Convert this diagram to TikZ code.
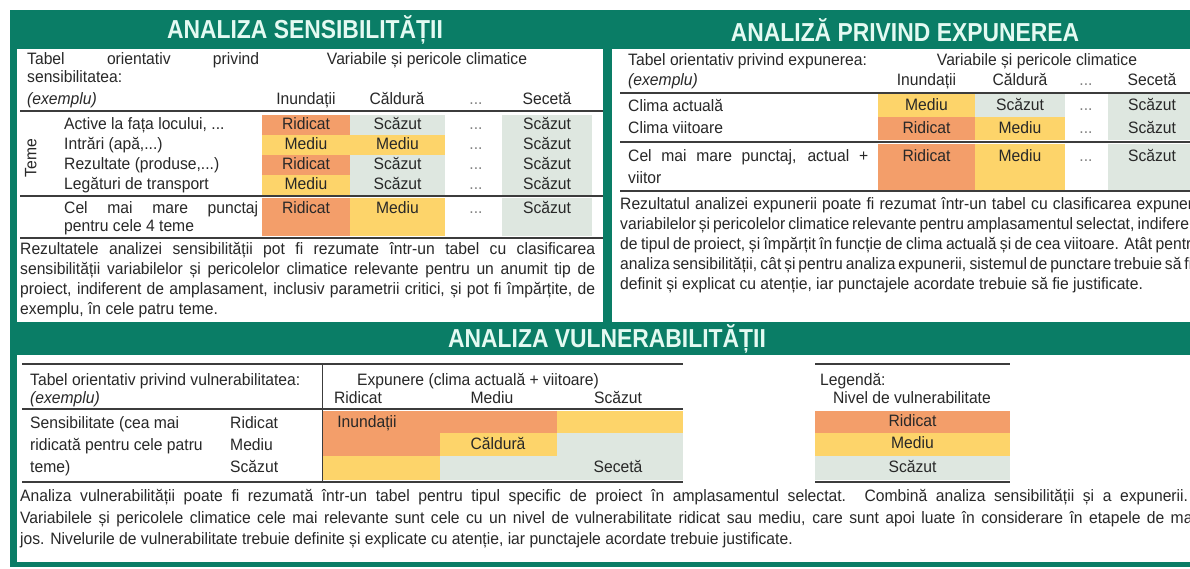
\documentclass[tikz,border=0pt]{standalone}
\usepackage{fontspec}
\setmainfont{Liberation Sans}[FakeStretch=0.95]
\newfontfamily\titlefont{Liberation Sans}[FakeStretch=0.88]
\definecolor{frame}{RGB}{10,125,102}
\definecolor{hi}{RGB}{243,158,106}
\definecolor{mid}{RGB}{253,212,106}
\definecolor{lo}{RGB}{222,231,224}
\definecolor{ink}{RGB}{40,40,40}
\definecolor{rulec}{RGB}{60,60,60}
\definecolor{titlecol}{RGB}{228,250,242}
\begin{document}
\begin{tikzpicture}[x=1pt,y=-1pt,
  tx/.style={inner sep=0pt, text height=12pt, text depth=3.5pt, font=\fontsize{16.5}{20}\selectfont, text=ink},
  lft/.style={tx, anchor=west},
  ctr/.style={tx, anchor=center},
  cell/.style={tx, anchor=center, minimum height=#1},
  cell/.default=20pt,
  dots/.style={tx, anchor=center, text=gray},
  titlebox/.style={inner sep=0pt, font=\titlefont\bfseries\fontsize{26}{28}\selectfont, text=titlecol},
  hrule/.style={draw=rulec, line width=2.4pt},
  vrule/.style={draw=rulec, line width=1pt}]
\useasboundingbox (0,0) rectangle (1190,569);
\clip (0,0) rectangle (1190,569);
\fill[white] (0,0) rectangle (1190,569);
% frame
\fill[frame] (10,10) rectangle (1200,567);
\fill[white] (17,49) rectangle (603,322);
\fill[white] (612,49) rectangle (1200,322);
\fill[white] (17,355) rectangle (1200,562);
% titles
\node[titlebox] (t1) at (305,30) {ANALIZA SENSIBILITĂȚII};
\node[titlebox] (t2) at (905,30) {ANALIZĂ PRIVIND EXPUNEREA};
\node[titlebox] (t3) at (607,339) {ANALIZA VULNERABILITĂȚII};

% ===== top left: sensitivity =====
\node[lft] (a1) at (27,60) {\makebox[232pt][s]{Tabel orientativ privind}};
\node[lft] (a2) at (27,78) {sensibilitatea:};
\node[lft] (a3) at (27,100) {\itshape (exemplu)};
\node[ctr] (a4) at (427,60) {Variabile și pericole climatice};
\node[ctr] (h1) at (306,100) {Inundații};
\node[ctr] (h2) at (397,100) {Căldură};
\node[dots] (h3) at (476,100) {...};
\node[ctr] (h4) at (547,100) {Secetă};
\draw[hrule] (20,111) -- (603,111);
\node[tx, rotate=90] (teme) at (32,158) {Teme};
% cells
\node[cell, fill=hi, minimum width=88pt] (s11) at (306,125) {Ridicat};
\node[cell, fill=lo, minimum width=95pt] (s12) at (397.5,125) {Scăzut};
\node[dots] (s13) at (476,125) {...};
\node[cell, fill=lo, minimum width=90pt] (s14) at (547,125) {Scăzut};
\node[cell, fill=mid, minimum width=88pt] (s21) at (306,145) {Mediu};
\node[cell, fill=mid, minimum width=95pt] (s22) at (397.5,145) {Mediu};
\node[dots] (s23) at (476,145) {...};
\node[cell, fill=lo, minimum width=90pt] (s24) at (547,145) {Scăzut};
\node[cell, fill=hi, minimum width=88pt] (s31) at (306,165) {Ridicat};
\node[cell, fill=lo, minimum width=95pt] (s32) at (397.5,165) {Scăzut};
\node[dots] (s33) at (476,165) {...};
\node[cell, fill=lo, minimum width=90pt] (s34) at (547,165) {Scăzut};
\node[cell, fill=mid, minimum width=88pt] (s41) at (306,185) {Mediu};
\node[cell, fill=lo, minimum width=95pt] (s42) at (397.5,185) {Scăzut};
\node[dots] (s43) at (476,185) {...};
\node[cell, fill=lo, minimum width=90pt] (s44) at (547,185) {Scăzut};
\node[lft] (r1) at (64,125) {Active la fața locului, ...};
\node[lft] (r2) at (64,145) {Intrări (apă,...)};
\node[lft] (r3) at (64,165) {Rezultate (produse,...)};
\node[lft] (r4) at (64,185) {Legături de transport};
\draw[hrule] (20,196) -- (603,196);
\fill[hi] (262,198) rectangle (350,236);
\fill[mid] (350,198) rectangle (445,236);
\fill[lo] (502,198) rectangle (592,236);
\node[ctr] (s51) at (306,209) {Ridicat};
\node[ctr] (s52) at (397.5,209) {Mediu};
\node[dots] (s53) at (476,209) {...};
\node[ctr] (s54) at (547,209) {Scăzut};
\node[lft] (r5) at (64,209) {\makebox[194pt][s]{Cel mai mare punctaj}};
\node[lft] (r6) at (64,227) {pentru cele 4 teme};
\draw[hrule] (20,238) -- (603,238);
\node[lft] (p1) at (20,250) {\makebox[575pt][s]{Rezultatele analizei sensibilității pot fi rezumate într-un tabel cu clasificarea}};
\node[lft] (p2) at (20,270) {\makebox[575pt][s]{sensibilității variabilelor și pericolelor climatice relevante pentru un anumit tip de}};
\node[lft] (p3) at (20,290) {\makebox[575pt][s]{proiect, indiferent de amplasament, inclusiv parametrii critici, și pot fi împărțite, de}};
\node[lft] (p4) at (20,310) {exemplu, în cele patru teme.};

% ===== top right: exposure =====
\node[lft] (b1) at (628,61) {Tabel orientativ privind expunerea:};
\node[ctr] (b2) at (1037,61) {Variabile și pericole climatice};
\node[lft] (b3) at (628,81) {\itshape (exemplu)};
\node[ctr] (g1) at (926.5,81) {Inundații};
\node[ctr] (g2) at (1020,81) {Căldură};
\node[dots] (g3) at (1086,81) {...};
\node[ctr] (g4) at (1152,81) {Secetă};
\draw[hrule] (620,93) -- (1200,93);
\node[cell=23pt, fill=mid, minimum width=97pt] (e11) at (926.5,106) {Mediu};
\node[cell=23pt, fill=lo, minimum width=90pt] (e12) at (1020,106) {Scăzut};
\node[dots] (e13) at (1086,106) {...};
\node[cell=23pt, fill=lo, minimum width=88pt] (e14) at (1152,106) {Scăzut};
\node[cell=23pt, fill=hi, minimum width=97pt] (e21) at (926.5,129) {Ridicat};
\node[cell=23pt, fill=mid, minimum width=90pt] (e22) at (1020,129) {Mediu};
\node[dots] (e23) at (1086,129) {...};
\node[cell=23pt, fill=lo, minimum width=88pt] (e24) at (1152,129) {Scăzut};
\node[lft] (q1) at (628,107) {Clima actuală};
\node[lft] (q2) at (628,129) {Clima viitoare};
\draw[hrule] (620,142) -- (1200,142);
\fill[hi] (878,144) rectangle (975,190);
\fill[mid] (975,144) rectangle (1065,190);
\fill[lo] (1108,144) rectangle (1196,190);
\node[ctr] (e31) at (926.5,157) {Ridicat};
\node[ctr] (e32) at (1020,157) {Mediu};
\node[dots] (e33) at (1086,157) {...};
\node[ctr] (e34) at (1152,157) {Scăzut};
\node[lft] (q3) at (628,157) {\makebox[240pt][s]{Cel mai mare punctaj, actual +}};
\node[lft] (q4) at (628,179) {viitor};
\draw[hrule] (620,191) -- (1200,191);
\node[lft] (m1) at (620,205) {\makebox[580pt][s]{Rezultatul analizei expunerii poate fi rezumat într-un tabel cu clasificarea expunerii}};
\node[lft] (m2) at (620,225) {\makebox[580pt][s]{variabilelor și pericolelor climatice relevante pentru amplasamentul selectat, indiferent}};
\node[lft] (m3) at (620,245) {\makebox[580pt][s]{de tipul de proiect, și împărțit în funcție de clima actuală și de cea viitoare. Atât pentru}};
\node[lft] (m4) at (620,265) {\makebox[580pt][s]{analiza sensibilității, cât și pentru analiza expunerii, sistemul de punctare trebuie să fie}};
\node[lft] (m5) at (620,285) {definit și explicat cu atenție, iar punctajele acordate trebuie să fie justificate.};

% ===== bottom: vulnerability =====
\draw[hrule] (22,364) -- (683,364);
\draw[hrule] (815,364) -- (1010,364);
\node[lft] (c1) at (30,381) {Tabel orientativ privind vulnerabilitatea:};
\node[lft] (c2) at (30,399) {\itshape (exemplu)};
\node[ctr] (c3) at (478,381) {Expunere (clima actuală + viitoare)};
\node[ctr] (x1) at (358,399) {Ridicat};
\node[ctr] (x2) at (492,399) {Mediu};
\node[ctr] (x3) at (618,399) {Scăzut};
\draw[hrule] (22,409) -- (683,409);
\fill[hi] (323,411) rectangle (557,433);
\fill[mid] (557,411) rectangle (683,433);
\fill[hi] (323,433) rectangle (440,456);
\fill[mid] (440,433) rectangle (557,456);
\fill[lo] (557,433) rectangle (683,456);
\fill[mid] (323,456) rectangle (440,480);
\fill[lo] (440,456) rectangle (683,480);
\node[ctr] (v1) at (367,423) {Inundații};
\node[ctr] (v2) at (498,445) {Căldură};
\node[ctr] (v3) at (618,468) {Secetă};
\node[lft] (y1) at (30,424) {Sensibilitate (cea mai};
\node[lft] (y2) at (30,446) {ridicată pentru cele patru};
\node[lft] (y3) at (30,468) {teme)};
\node[lft] (z1) at (230,424) {Ridicat};
\node[lft] (z2) at (230,446) {Mediu};
\node[lft] (z3) at (230,468) {Scăzut};
\draw[hrule] (22,482) -- (683,482);
\draw[vrule] (322,363) -- (322,482);
% legend
\node[lft] (l1) at (820,381) {Legendă:};
\node[ctr] (l2) at (912,399) {Nivel de vulnerabilitate};
\node[cell=22pt, fill=hi, minimum width=195pt] (l3) at (912.5,422) {Ridicat};
\node[cell=23pt, fill=mid, minimum width=195pt] (l4) at (912.5,444.5) {Mediu};
\node[cell=24pt, fill=lo, minimum width=195pt] (l5) at (912.5,468) {Scăzut};
\draw[hrule] (815,482) -- (1010,482);
% paragraph
\node[lft] (n1) at (20,497) {\makebox[1168pt][s]{Analiza vulnerabilității poate fi rezumată într-un tabel pentru tipul specific de proiect în amplasamentul selectat. Combină analiza sensibilității și a expunerii.}};
\node[lft] (n2) at (20,519) {\makebox[1176pt][s]{Variabilele și pericolele climatice cele mai relevante sunt cele cu un nivel de vulnerabilitate ridicat sau mediu, care sunt apoi luate în considerare în etapele de mai}};
\node[lft] (n3) at (20,540) {jos. Nivelurile de vulnerabilitate trebuie definite și explicate cu atenție, iar punctajele acordate trebuie justificate.};
\end{tikzpicture}
\end{document}
